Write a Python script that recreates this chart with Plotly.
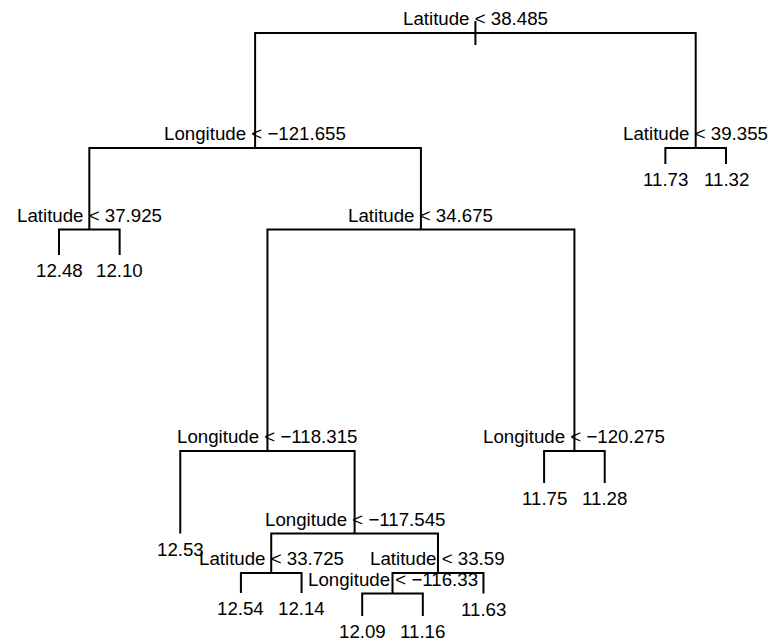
import plotly.graph_objects as go

# Tree structure (R 'tree' style node numbering)
node_ids = [1, 2, 3, 4, 5, 6, 7, 8, 9, 10, 11, 20, 21, 22, 23, 42, 43, 84, 85, 86, 87, 172, 173]
split_labels = {
    1: "Latitude < 38.485",
    2: "Longitude < \u2212121.655",
    3: "Latitude < 39.355",
    4: "Latitude < 37.925",
    5: "Latitude < 34.675",
    10: "Longitude < \u2212118.315",
    11: "Longitude < \u2212120.275",
    21: "Longitude < \u2212117.545",
    42: "Latitude < 33.725",
    43: "Latitude < 33.59",
    86: "Longitude < \u2212116.33",
}
leaf_values = {
    8: "12.48", 9: "12.10", 20: "12.53", 84: "12.54", 85: "12.14",
    172: "12.09", 173: "11.16", 87: "11.63", 22: "11.75", 23: "11.28",
    6: "11.73", 7: "11.32",
}
# node heights (proportional to deviance)
node_height = {
    1: 609, 2: 494, 3: 494, 6: 478, 7: 478,
    4: 412.5, 5: 412.5, 8: 387, 9: 387,
    10: 191, 11: 191, 22: 159, 23: 159,
    20: 108.5, 21: 108.5, 42: 69, 43: 69,
    84: 49, 85: 49, 86: 48.5, 87: 48.5,
    172: 26, 173: 26,
}

ids = set(node_ids)

def children(n):
    return (2 * n, 2 * n + 1) if 2 * n in ids else None

# x coordinates: leaves 1..n in order, internal = mean of children
xpos = {}
counter = [0]

def assign(n):
    ch = children(n)
    if ch is None:
        counter[0] += 1
        xpos[n] = counter[0]
    else:
        assign(ch[0]); assign(ch[1])
        xpos[n] = (xpos[ch[0]] + xpos[ch[1]]) / 2

assign(1)

xs, ys = [], []
for n in node_ids:
    ch = children(n)
    if ch:
        l, r = ch
        yp = node_height[n]
        xs += [xpos[l], xpos[l], xpos[r], xpos[r], None]
        ys += [node_height[l], yp, yp, node_height[r], None]
# root tick
xs += [xpos[1], xpos[1], None]
ys += [node_height[1] + 12, node_height[1] - 12, None]

fig = go.Figure()
fig.add_trace(go.Scatter(x=xs, y=ys, mode="lines", line=dict(color="black", width=2),
                         hoverinfo="skip", showlegend=False))

font = dict(family="Liberation Sans, Arial, sans-serif", size=18.7, color="black")
ann = []
for n, lab in split_labels.items():
    ann.append(dict(x=xpos[n], y=node_height[n], text=lab, showarrow=False,
                    xanchor="center", yanchor="middle", yshift=14.5, font=font))
for n, lab in leaf_values.items():
    ann.append(dict(x=xpos[n], y=node_height[n], text=lab, showarrow=False,
                    xanchor="center", yanchor="middle", yshift=-15.5, font=font))

fig.update_layout(
    width=771, height=642,
    margin=dict(l=0, r=0, t=0, b=0),
    paper_bgcolor="white", plot_bgcolor="white",
    xaxis=dict(range=[0.027, 12.742], visible=False, fixedrange=True),
    yaxis=dict(range=[0, 642], visible=False, fixedrange=True),
    annotations=ann,
)
fig.write_html("out.html", config={"displayModeBar": False},
               post_script="document.body.style.margin='0px';document.body.style.overflow='hidden';")
